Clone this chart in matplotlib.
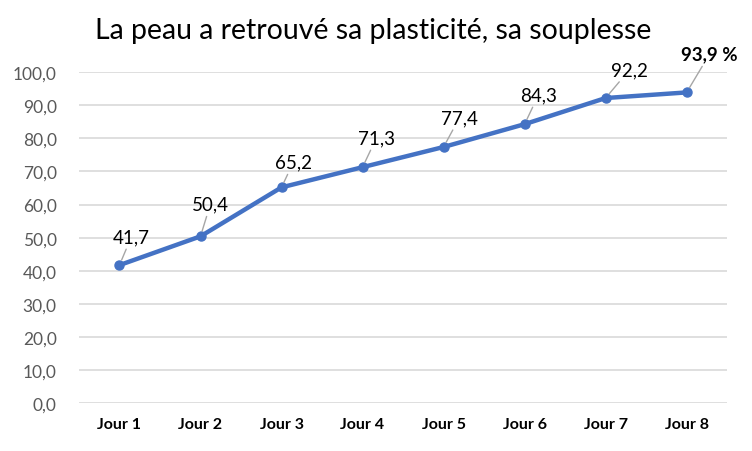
import matplotlib
matplotlib.use("Agg")
import matplotlib.pyplot as plt

days = ["Jour 1", "Jour 2", "Jour 3", "Jour 4", "Jour 5", "Jour 6", "Jour 7", "Jour 8"]
values = [41.7, 50.4, 65.2, 71.3, 77.4, 84.3, 92.2, 93.9]
labels = ["41,7", "50,4", "65,2", "71,3", "77,4", "84,3", "92,2", "93,9 %"]
# label offsets (pixels) relative to the point
offsets = [(12, 23), (10, 27), (12, 20), (14, 24), (16, 24), (14, 24), (24, 23), (23, 33)]

plt.rcParams['font.family'] = ['Lato', 'DejaVu Sans']

fig = plt.figure(figsize=(7.52, 4.52), dpi=100)
ax = fig.add_axes([0.105, 0.106, 0.862, 0.732])

x = list(range(len(days)))
ax.plot(x, values, color='#4472C4', lw=3.2, marker='o', ms=6.5, zorder=3,
        solid_capstyle='round')

for i, (v, lab, off) in enumerate(zip(values, labels, offsets)):
    bold = i == len(values) - 1
    ax.annotate(lab, (i, v), xytext=(off[0] * 0.72, off[1] * 0.72), textcoords='offset points',
                ha='center', va='baseline', fontsize=13.5, color='black',
                fontweight='bold' if bold else 'normal',
                arrowprops=dict(arrowstyle='-', color='#A6A6A6', lw=1, shrinkA=1, shrinkB=4))

ax.set_xlim(-0.5, 7.5)
ax.set_ylim(0, 100)
ax.set_yticks(range(0, 101, 10))
ax.set_yticklabels([f"{t},0" for t in range(0, 101, 10)], color='#595959', fontsize=12.5)
ax.set_xticks(x)
ax.set_xticklabels(days, fontweight='bold', fontsize=11.5, color='black')
ax.tick_params(length=0, pad=10)
ax.tick_params(axis='y', pad=16)
ax.grid(axis='y', color='#D9D9D9', lw=1.2)
ax.set_axisbelow(True)
for s in ax.spines.values():
    s.set_visible(False)

fig.text(0.496, 0.932, "La peau a retrouvé sa plasticité, sa souplesse", ha='center', va='center',
         fontsize=20.5, color='black')

fig.savefig("out.png", dpi=100)
